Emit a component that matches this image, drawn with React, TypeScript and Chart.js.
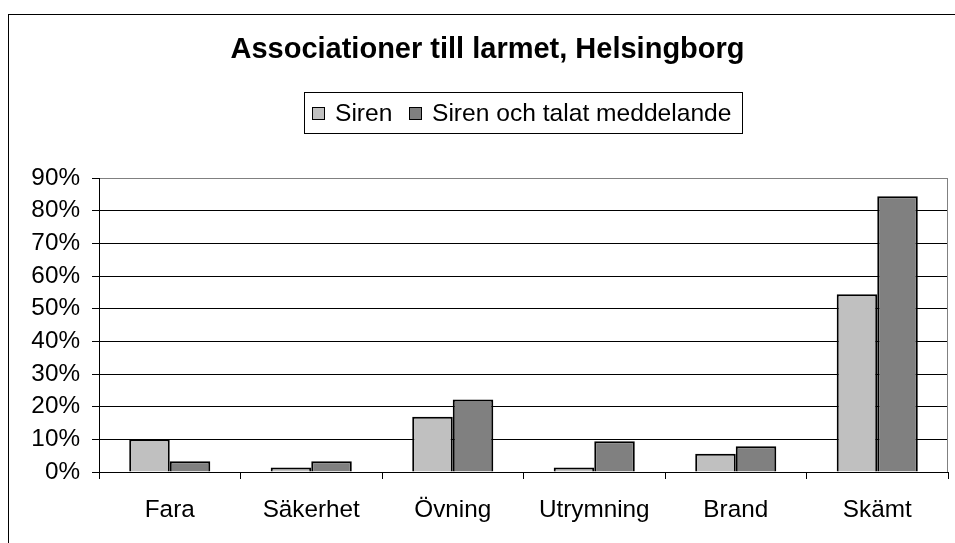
import React, { useEffect, useRef } from "react";
import { Chart, registerables } from "chart.js";

Chart.register(...registerables);

const TITLE = "Associationer till larmet, Helsingborg";
const categories = ["Fara", "Säkerhet", "Övning", "Utrymning", "Brand", "Skämt"];
const seriesNames = ["Siren", "Siren och talat meddelande"];
const sirenValues = [10.0, 1.4, 16.9, 1.4, 5.6, 54.4];
const sirenTalValues = [3.3, 3.3, 22.2, 9.4, 7.9, 84.4];
const seriesColors = ["#C0C0C0", "#808080"];
const yMax = 90;
const yStep = 10;

const FONT = '"Liberation Sans", Arial, sans-serif';

const decorPlugin = {
  id: "decor",
  beforeDraw(chart: any) {
    const ctx = chart.ctx;
    ctx.save();
    ctx.fillStyle = "#ffffff";
    ctx.fillRect(0, 0, chart.width, chart.height);
    ctx.strokeStyle = "#000000";
    ctx.lineWidth = 1;
    ctx.strokeRect(8.5, 14.5, 1100, 700);
    ctx.restore();
  },
  afterDraw(chart: any) {
    const ctx = chart.ctx;
    const area = chart.chartArea;
    ctx.save();
    ctx.strokeStyle = "#808080";
    ctx.lineWidth = 1;
    ctx.beginPath();
    ctx.moveTo(Math.round(area.right) - 0.5, area.top);
    ctx.lineTo(Math.round(area.right) - 0.5, area.bottom);
    ctx.stroke();

    ctx.fillStyle = "#000000";
    ctx.font = "bold 29px " + FONT;
    ctx.textAlign = "center";
    ctx.textBaseline = "alphabetic";
    ctx.fillText(TITLE, 487.5, 58);

    ctx.strokeStyle = "#000000";
    ctx.lineWidth = 1;
    ctx.strokeRect(304.5, 92.5, 438, 41);
    ctx.font = "24.6px " + FONT;
    ctx.textAlign = "left";
    const ds = chart.data.datasets;
    const swX = [312, 409];
    for (let i = 0; i < ds.length; i++) {
      ctx.fillStyle = ds[i].backgroundColor;
      ctx.fillRect(swX[i] + 0.5, 107.5, 12, 12);
      ctx.strokeStyle = "#000000";
      ctx.strokeRect(swX[i] + 0.5, 107.5, 12, 12);
      ctx.fillStyle = "#000000";
      ctx.fillText(ds[i].label, swX[i] + 23, 121);
    }
    ctx.restore();
  },
};

export default function App() {
  const ref = useRef<HTMLCanvasElement | null>(null);
  useEffect(() => {
    if (!ref.current) return;
    const chart = new Chart(ref.current, {
      type: "bar",
      data: {
        labels: categories,
        datasets: [
          {
            label: seriesNames[0],
            data: sirenValues,
            backgroundColor: seriesColors[0],
            borderColor: "#000000",
            borderWidth: 2,
            categoryPercentage: 0.573,
            barPercentage: 1,
          },
          {
            label: seriesNames[1],
            data: sirenTalValues,
            backgroundColor: seriesColors[1],
            borderColor: "#000000",
            borderWidth: 2,
            categoryPercentage: 0.573,
            barPercentage: 1,
          },
        ],
      },
      options: {
        responsive: false,
        animation: false,
        devicePixelRatio: 1,
        layout: { padding: { top: 178, right: 7, left: 0, bottom: 0 } },
        plugins: {
          legend: { display: false },
          title: { display: false },
          tooltip: { enabled: false },
        },
        scales: {
          x: {
            offset: true,
            grid: {
              display: true,
              drawOnChartArea: false,
              drawTicks: true,
              tickLength: 7,
              color: "#000000",
              offset: true,
            },
            border: { display: true, color: "#000000", width: 1 },
            ticks: {
              color: "#000000",
              font: { family: FONT, size: 24.3 },
              padding: 17,
              maxRotation: 0,
              autoSkip: false,
            },
            afterFit: (scale: any) => {
              scale.height = 71;
            },
          },
          y: {
            min: 0,
            max: yMax,
            grid: {
              color: (c: any) => (c.tick && c.tick.value === yMax ? "#808080" : "#000000"),
              tickColor: "#000000",
              tickLength: 7,
              lineWidth: 1,
            },
            border: { display: true, color: "#000000", width: 1 },
            ticks: {
              stepSize: yStep,
              color: "#000000",
              font: { family: FONT, size: 24.3 },
              padding: 12,
              callback: (v: any) => v + "%",
            },
            afterFit: (scale: any) => {
              scale.width = 99;
            },
          },
        },
      },
      plugins: [decorPlugin],
    });
    return () => chart.destroy();
  }, []);
  return (
    <div style={{ position: "absolute", left: 0, top: 0, width: 955, height: 543 }}>
      <canvas ref={ref} width={955} height={543} style={{ display: "block" }} />
    </div>
  );
}
